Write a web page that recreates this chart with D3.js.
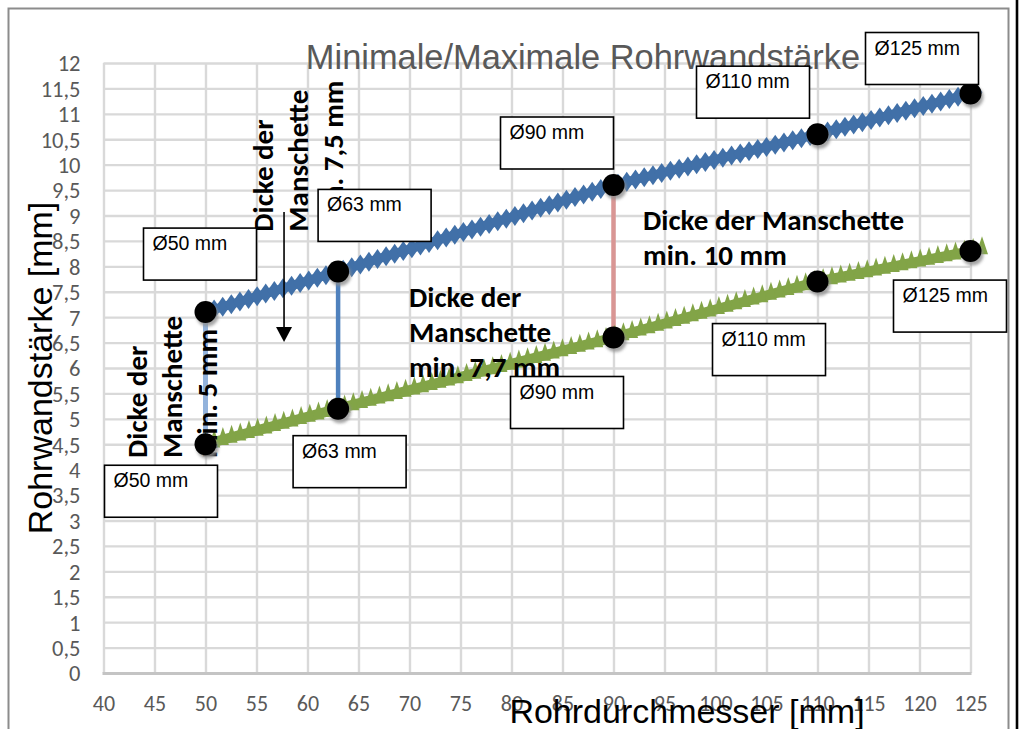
<!DOCTYPE html>
<html>
<head>
<meta charset="utf-8">
<script src="https://cdn.jsdelivr.net/npm/d3@7/dist/d3.min.js"></script>
<style>
  html, body { margin: 0; padding: 0; background: #fff; overflow: hidden; }
  svg { display: block; }
</style>
</head>
<body>
<svg id="chart" width="1027" height="729"></svg>
<script>
// Pipe diameters [mm] and the matching wall thickness limits [mm]
const diameters = [50, 63, 90, 110, 125];
const wallMax = [7.1, 7.9, 9.6, 10.6, 11.4];
const wallMin = [4.5, 5.2, 6.6, 7.7, 8.3];
const pointLabels = ["Ø50 mm", "Ø63 mm", "Ø90 mm", "Ø110 mm", "Ø125 mm"];

// Axis ticks
const xTicks = [40, 45, 50, 55, 60, 65, 70, 75, 80, 85, 90, 95, 100, 105, 110, 115, 120, 125];
const yTicks = [0, 0.5, 1, 1.5, 2, 2.5, 3, 3.5, 4, 4.5, 5, 5.5, 6, 6.5, 7, 7.5, 8, 8.5, 9, 9.5, 10, 10.5, 11, 11.5, 12];

// Sleeve thickness markers between the two curves (index into diameters)
const sleeveIndex = [0, 1, 2];
const sleeveColors = ["#93b3dc", "#4f81bd", "#d99694"];

// Text annotations
const noteSleeve5 = ["Dicke der", "Manschette", "min. 5 mm"];
const noteSleeve75 = ["Dicke der", "Manschette", "min. 7,5 mm"];
const noteSleeve77 = ["Dicke der", "Manschette", "min. 7,7 mm"];
const noteSleeve10 = ["Dicke der Manschette", "min. 10 mm"];

const chartTitle = "Minimale/Maximale Rohrwandstärke";
const xTitle = "Rohrdurchmesser [mm]";
const yTitle = "Rohrwandstärke [mm]";

// ---- layout ----
const W = 1027, H = 729;
const plot = { left: 103.5, right: 970.5, top: 63, bottom: 673 };
const boxW = 113, boxH = 52;
// label box top-left corner, relative to its point
const upperBoxOffset = [[-62, -84], [-20, -82], [-113, -68], [-121, -68], [-105, -61]];
const lowerBoxOffset = [[-101, 21], [-45, 27], [-103, 39], [-105, 42], [-77, 29]];

const svg = d3.select("#chart");
const x = d3.scaleLinear().domain([40, 125]).range([plot.left, plot.right]);
const y = d3.scaleLinear().domain([0, 12]).range([plot.bottom, plot.top]);
const de = d3.formatLocale({ decimal: ",", thousands: ".", grouping: [3], currency: ["", " €"] });
const fmt = de.format("~g");

const tickFont = "Carlito, Lato, 'Noto Sans', sans-serif";
const boldFont = "Carlito, Lato, 'Noto Sans', sans-serif";
const arial = "'Liberation Sans', Arial, sans-serif";

const defs = svg.append("defs");
const shadow = defs.append("filter").attr("id", "dotShadow")
  .attr("x", "-50%").attr("y", "-50%").attr("width", "200%").attr("height", "200%");
shadow.append("feGaussianBlur").attr("stdDeviation", 1.6);

// Background and frame
svg.append("rect").attr("width", W).attr("height", H).attr("fill", "#fff");
svg.append("rect").attr("x", 8.5).attr("y", 8.5).attr("width", 1000).attr("height", 760)
  .attr("fill", "none").attr("stroke", "#8c8c8c").attr("stroke-width", 2);
svg.append("line").attr("x1", 1017).attr("x2", 1017).attr("y1", 0).attr("y2", H)
  .attr("stroke", "#000").attr("stroke-width", 2.6);

// Gridlines
const gridX = svg.append("g").attr("transform", `translate(0,${plot.bottom})`)
  .call(d3.axisBottom(x).tickValues(xTicks).tickSize(-(plot.bottom - plot.top)).tickFormat(""));
const gridY = svg.append("g").attr("transform", `translate(${plot.left},0)`)
  .call(d3.axisLeft(y).tickValues(yTicks).tickSize(-(plot.right - plot.left)).tickFormat(""));
[gridX, gridY].forEach(g => {
  g.select(".domain").remove();
  g.selectAll(".tick line").attr("stroke", "#d9d9d9").attr("stroke-width", 2.4);
});
// horizontal axis line
svg.append("line").attr("x1", plot.left - 1).attr("x2", plot.right + 1)
  .attr("y1", plot.bottom + 0.5).attr("y2", plot.bottom + 0.5)
  .attr("stroke", "#c4c4c4").attr("stroke-width", 3);

// Tick labels
const xLab = svg.append("g").attr("transform", `translate(0,${plot.bottom})`)
  .call(d3.axisBottom(x).tickValues(xTicks).tickSize(0).tickPadding(0).tickFormat(fmt));
xLab.select(".domain").remove();
xLab.selectAll(".tick text").attr("y", 38).attr("dy", 0)
  .style("font-family", tickFont).style("font-size", "22px").attr("fill", "#595959");

const yLab = svg.append("g").attr("transform", `translate(${plot.left},0)`)
  .call(d3.axisLeft(y).tickValues(yTicks).tickSize(0).tickPadding(23).tickFormat(fmt));
yLab.select(".domain").remove();
yLab.selectAll(".tick text").attr("dy", "0.35em")
  .style("font-family", tickFont).style("font-size", "22.5px").attr("fill", "#595959");

// Titles
svg.append("text").attr("x", 583).attr("y", 69).attr("text-anchor", "middle")
  .attr("font-family", arial).attr("font-size", 34.4).attr("fill", "#595959").text(chartTitle);
svg.append("text").attr("x", 687).attr("y", 723).attr("text-anchor", "middle")
  .attr("font-family", arial).attr("font-size", 34).attr("fill", "#000").text(xTitle);
svg.append("text").attr("transform", "translate(52,368) rotate(-90)").attr("text-anchor", "middle")
  .attr("font-family", arial).attr("font-size", 34).attr("fill", "#000").text(yTitle);

// Sleeve thickness connectors
svg.append("g").selectAll("line").data(sleeveIndex).join("line")
  .attr("x1", i => x(diameters[i])).attr("x2", i => x(diameters[i]))
  .attr("y1", i => y(wallMin[i])).attr("y2", i => y(wallMax[i]))
  .attr("stroke", (i, k) => sleeveColors[k]).attr("stroke-width", (i, k) => k === 0 ? 5 : 4.5);

// Zigzag bands along each curve: dense markers on a thick core line
function alongPath(pts, step) {
  const out = [];
  let carry = 0;
  for (let i = 0; i < pts.length - 1; i++) {
    const [x0, y0] = pts[i], [x1, y1] = pts[i + 1];
    const len = Math.hypot(x1 - x0, y1 - y0);
    let t = carry;
    while (t <= len) {
      out.push([x0 + (x1 - x0) * t / len, y0 + (y1 - y0) * t / len]);
      t += step;
    }
    carry = t - len;
  }
  // run slightly past the last point
  const n = pts.length;
  const [xa, ya] = pts[n - 2], [xb, yb] = pts[n - 1];
  const L = Math.hypot(xb - xa, yb - ya);
  for (let t = carry; t < 12; t += step) out.push([xb + (xb - xa) * t / L, yb + (yb - ya) * t / L]);
  return out;
}

const line = d3.line();
const upperPts = diameters.map((d, i) => [x(d), y(wallMax[i])]);
const lowerPts = diameters.map((d, i) => [x(d), y(wallMin[i])]);

const blue = "#4170a8", green = "#82a447";

const gUp = svg.append("g");
gUp.append("path").attr("d", line(upperPts)).attr("fill", "none")
  .attr("stroke", blue).attr("stroke-width", 9);
gUp.selectAll("path.m").data(alongPath(upperPts, 9)).join("path").attr("class", "m")
  .attr("d", p => `M${p[0]},${p[1] - 10}L${p[0] + 7},${p[1]}L${p[0]},${p[1] + 10}L${p[0] - 7},${p[1]}Z`)
  .attr("fill", blue);

const gLo = svg.append("g");
gLo.append("path").attr("d", line(lowerPts)).attr("fill", "none")
  .attr("stroke", green).attr("stroke-width", 10);
gLo.selectAll("path.m").data(alongPath(lowerPts, 9)).join("path").attr("class", "m")
  .attr("d", p => `M${p[0]},${p[1] - 12.5}L${p[0] + 6},${p[1] + 5.5}L${p[0] - 6},${p[1] + 5.5}Z`)
  .attr("fill", green);

// Annotation texts
function noteVertical(lines, dx, dy) {
  const t = svg.append("text")
    .attr("transform", `translate(${x(dx)},${y(dy)}) rotate(-90)`)
    .attr("font-family", boldFont).attr("font-weight", "bold").attr("font-size", 29).attr("fill", "#000");
  lines.forEach((s, i) => t.append("tspan").attr("x", 0).attr("y", i * 35).text(s));
}
function noteHorizontal(lines, dx, dy) {
  const t = svg.append("text").attr("transform", `translate(${x(dx)},${y(dy)})`)
    .attr("font-family", boldFont).attr("font-weight", "bold").attr("font-size", 29).attr("fill", "#000");
  lines.forEach((s, i) => t.append("tspan").attr("x", 0).attr("y", i * 35).text(s));
}
noteVertical(noteSleeve5, 44.26, 4.23);
noteVertical(noteSleeve75, 56.64, 8.68);
noteHorizontal(noteSleeve77, 69.95, 7.2);
noteHorizontal(noteSleeve10, 92.9, 8.72);

// Arrow pointing from the 63 mm note down to the gap
const ax = x(57.7), ay0 = y(9.07), ay1 = y(6.51);
svg.append("line").attr("x1", ax).attr("x2", ax).attr("y1", ay0).attr("y2", ay1 - 12)
  .attr("stroke", "#000").attr("stroke-width", 1.6);
svg.append("path").attr("d", `M${ax - 8},${ay1 - 15}L${ax + 8},${ay1 - 15}L${ax},${ay1}Z`).attr("fill", "#000");

// Data points
const allPts = upperPts.concat(lowerPts);
svg.append("g").selectAll("circle").data(allPts).join("circle")
  .attr("cx", p => p[0] + 2).attr("cy", p => p[1] + 3.5).attr("r", 11)
  .attr("fill", "#8f8f8f").attr("opacity", 0.8).attr("filter", "url(#dotShadow)");
svg.append("g").selectAll("circle").data(allPts).join("circle")
  .attr("cx", p => p[0]).attr("cy", p => p[1]).attr("r", 11).attr("fill", "#000");

// Label boxes
function labelBoxes(pts, offsets) {
  const g = svg.append("g").selectAll("g").data(pts).join("g")
    .attr("transform", (p, i) => `translate(${p[0] + offsets[i][0]},${p[1] + offsets[i][1]})`);
  g.append("rect").attr("width", boxW).attr("height", boxH)
    .attr("fill", "#fff").attr("stroke", "#000").attr("stroke-width", 1.6);
  g.append("text").attr("x", 9).attr("y", 22)
    .attr("font-family", arial).attr("font-size", 19.5).attr("fill", "#000")
    .text((p, i) => pointLabels[i]);
}
labelBoxes(upperPts, upperBoxOffset);
labelBoxes(lowerPts, lowerBoxOffset);
</script>
</body>
</html>
